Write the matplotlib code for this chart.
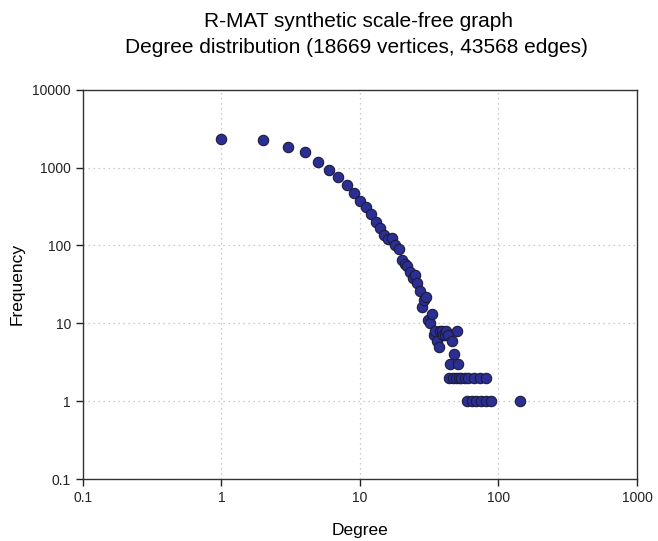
import matplotlib
matplotlib.use("Agg")
import matplotlib.pyplot as plt
from matplotlib.ticker import NullLocator

plt.rcParams['font.family'] = ['Liberation Sans', 'DejaVu Sans']

# degree -> frequency
degree = [1, 2, 3, 4, 5, 6, 7, 8, 9, 10, 11, 12, 13, 14, 15, 16, 17, 18, 19, 20,
          21, 22, 23, 24, 25, 26, 27, 28, 29, 30, 31, 32, 33, 34, 35, 36, 37, 38, 39, 40,
          41, 42, 43, 44, 45, 46, 47, 48, 49, 50, 51, 52, 54, 57, 59, 60, 64, 67, 69, 73,
          75, 81, 82, 89, 144]
frequency = [2350, 2290, 1860, 1600, 1195, 943, 767, 605, 478, 378, 313, 254, 199, 166, 135, 122, 125, 100, 89, 66,
             57, 54, 45, 38, 42, 33, 26, 16, 20, 22, 11, 10, 13, 7, 8, 6, 5, 8, 8, 7,
             7, 8, 7, 2, 3, 6, 2, 4, 2, 8, 3, 2, 2, 2, 1, 2, 1, 2, 1, 2,
             1, 2, 1, 1, 1]

x_ticks = [0.1, 1, 10, 100, 1000]
x_labels = ["0.1", "1", "10", "100", "1000"]
y_ticks = [0.1, 1, 10, 100, 1000, 10000]
y_labels = ["0.1", "1", "10", "100", "1000", "10000"]

fig = plt.figure(figsize=(6.58, 5.41), dpi=100)
ax = fig.add_axes([0.126, 0.1146, 0.842, 0.7194])

ax.scatter(degree, frequency, s=56, color="#2b2f94", edgecolor="#1c1c3c",
           linewidth=0.8, zorder=3)

ax.set_xscale("log")
ax.set_yscale("log")
ax.set_xlim(0.1, 1000)
ax.set_ylim(0.1, 10000)
ax.set_xticks(x_ticks)
ax.set_xticklabels(x_labels)
ax.set_yticks(y_ticks)
ax.set_yticklabels(y_labels)
ax.xaxis.set_minor_locator(NullLocator())
ax.yaxis.set_minor_locator(NullLocator())
ax.tick_params(direction="out", length=5, width=1, labelsize=10, colors="#222222")
for s in ax.spines.values():
    s.set_linewidth(1)
    s.set_color("#333333")

ax.grid(True, linestyle=(0, (1, 3)), color="#bbbbbb", linewidth=0.9)
ax.set_axisbelow(True)

ax.set_xlabel("Degree", fontsize=12.5, labelpad=13)
ax.set_ylabel("Frequency", fontsize=12.5)
ax.yaxis.set_label_coords(-0.105, 0.5)
fig.text(0.545, 0.961, "R-MAT synthetic scale-free graph", ha="center", va="center", fontsize=15)
fig.text(0.542, 0.913, "Degree distribution (18669 vertices, 43568 edges)", ha="center", va="center", fontsize=15)

fig.savefig("out.png", dpi=100)
